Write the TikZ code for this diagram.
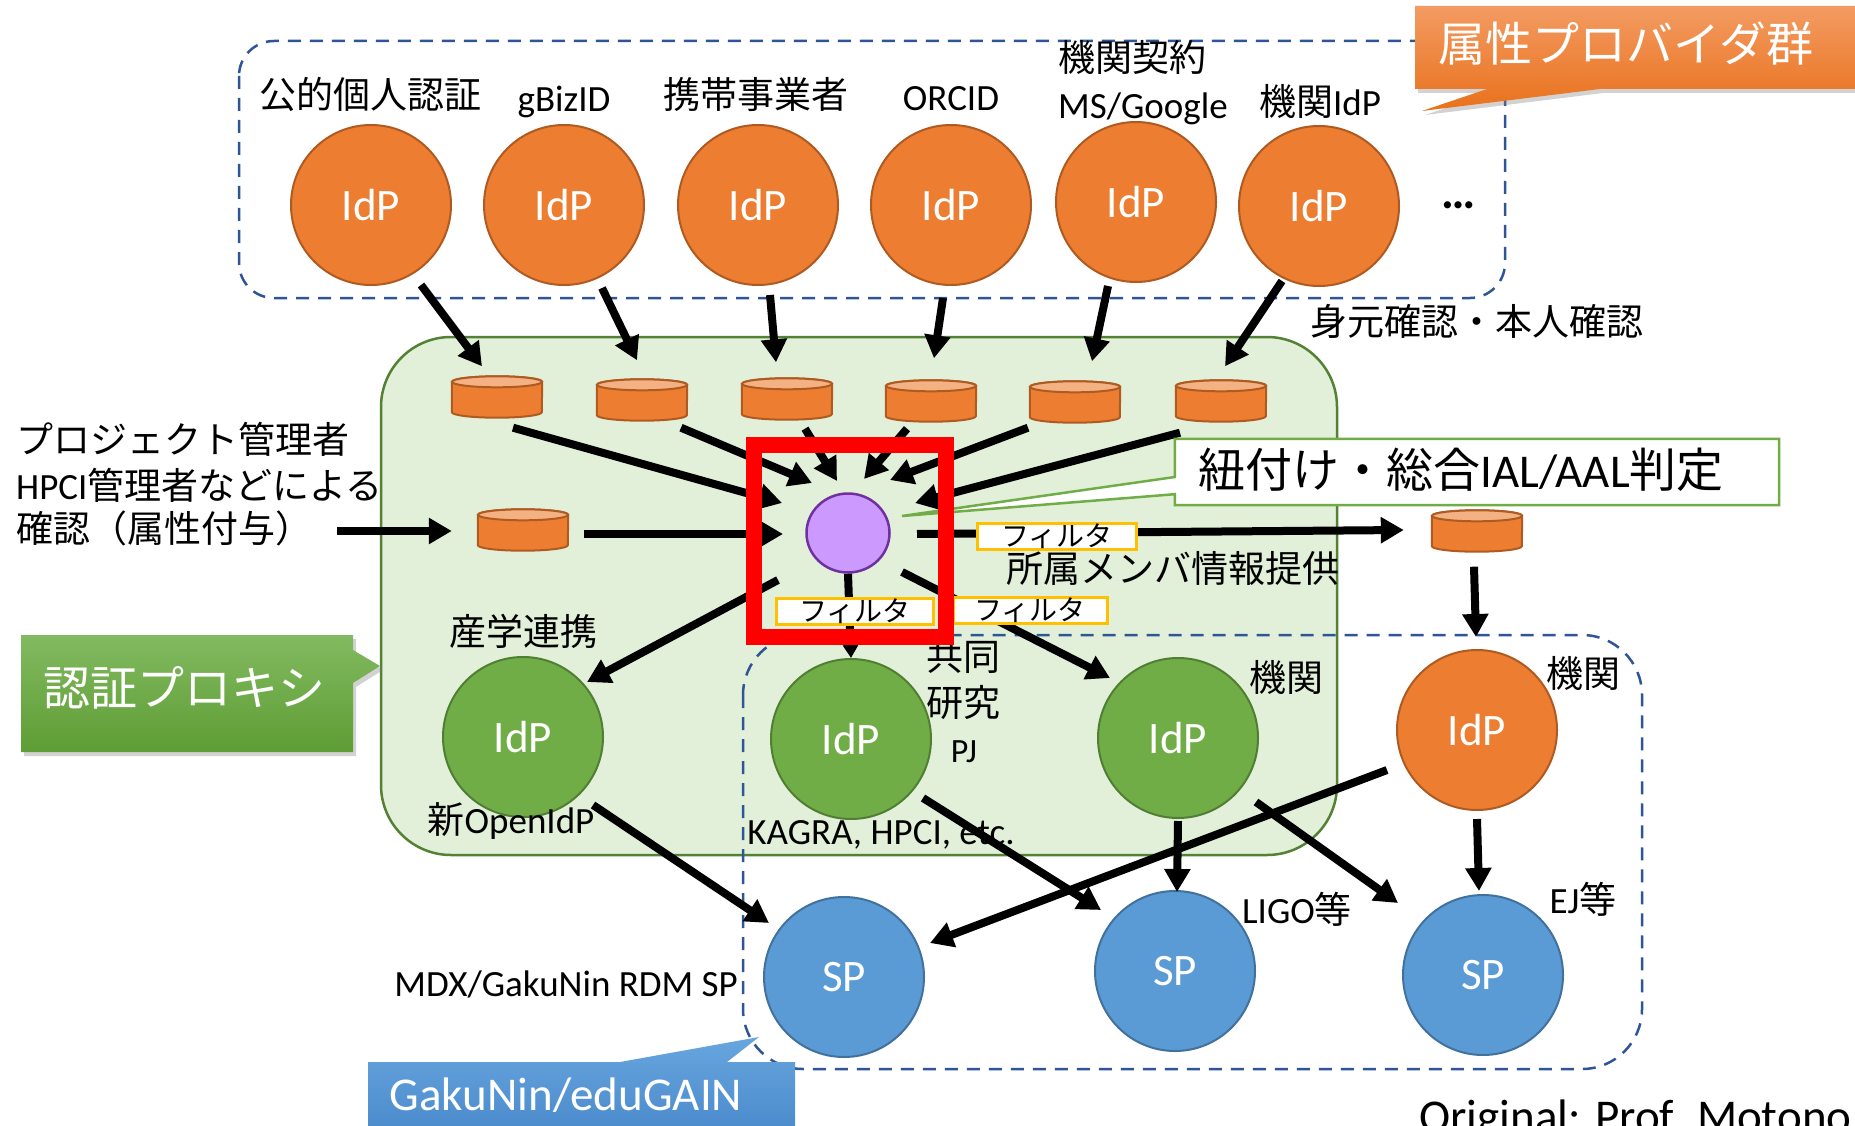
\documentclass[tikz,border=0pt]{standalone}
\usepackage{fontspec}
\setmainfont{Carlito}
\newfontfamily\jafont{Noto Sans CJK JP}
\usetikzlibrary{arrows.meta,calc,shadows,shapes.geometric}
\newcommand\J[1]{{\jafont #1}}
\newcommand\fsz[1]{\fontsize{#1}{#1}\selectfont}
\definecolor{orF}{HTML}{ED7D31}
\definecolor{orB}{HTML}{AE5A21}
\definecolor{orT}{HTML}{F4B183}
\definecolor{grF}{HTML}{70AD47}
\definecolor{grB}{HTML}{507E32}
\definecolor{blF}{HTML}{5B9BD5}
\definecolor{blB}{HTML}{41719C}
\definecolor{puF}{HTML}{CC99FF}
\definecolor{puB}{HTML}{7030A0}
\definecolor{boxF}{HTML}{E2F0D9}
\definecolor{boxB}{HTML}{548235}
\definecolor{dashB}{HTML}{2F5597}
\definecolor{filB}{HTML}{FFC000}
\definecolor{callG}{HTML}{70AD47}
\definecolor{orTop}{HTML}{F39B62}
\definecolor{orBot}{HTML}{E9711C}
\definecolor{grTop}{HTML}{82BA61}
\definecolor{grBot}{HTML}{5E9D34}
\definecolor{blTop}{HTML}{68A6DF}
\definecolor{blBot}{HTML}{4A89CB}
\begin{document}
\begin{tikzpicture}[x=1pt,y=-1pt,
  idp/.style={circle,minimum size=160,inner sep=0,line width=2,text=white,font=\fsz{45}},
  oidp/.style={idp,fill=orF,draw=orB},
  gidp/.style={idp,fill=grF,draw=grB},
  spn/.style={idp,fill=blF,draw=blB},
  cyl/.style={rectangle,minimum width=90,minimum height=41,inner sep=0},
  arr/.style={line width=8,-{Triangle[length=23pt,width=25pt]}},
  arrs/.style={line width=8,-{Triangle[length=13pt,width=15pt]}},
  lbl/.style={inner sep=0,font=\fsz{37}},
  filt/.style={draw=filB,fill=white,line width=3,minimum height=26,inner sep=0,font=\jafont\fsz{28}},
  dbox/.style={draw=dashB,line width=2.5,dash pattern=on 13pt off 9pt},
  callout/.style={font=\jafont\fsz{47},text=white,inner sep=0},
  shad/.style={drop shadow={shadow xshift=3pt,shadow yshift=-4pt,opacity=.35}}
]
\clip (0,0) rectangle (1855,1126);
\fill[white] (0,0) rectangle (1855,1126);

% proxy area and dashed groups
\draw[fill=boxF,draw=boxB,line width=2.5,rounded corners=70] (381,337) rectangle (1337,855);
\draw[dbox,rounded corners=35] (239,41) rectangle (1505,298);
\draw[dbox,rounded corners=60] (743,635) rectangle (1642,1069);

% top IdPs
\node[oidp] (t1) at (371,205) {IdP};
\node[oidp] (t2) at (564,205) {IdP};
\node[oidp] (t3) at (758,205) {IdP};
\node[oidp] (t4) at (951,205) {IdP};
\node[oidp] (t5) at (1136,202) {IdP};
\node[oidp] (t6) at (1319,206) {IdP};

% labels top
\node[lbl] (l1) at (370,94) {\J{公的個人認証}};
\node[lbl] (l2) at (564,102) {gBizID};
\node[lbl] (l3) at (756,94) {\J{携帯事業者}};
\node[lbl] (l4) at (951,99) {ORCID};
\node[lbl] (l5a) at (1132,57) {\J{機関契約}};
\node[lbl] (l5b) at (1143,109) {MS/Google};
\node[lbl] (l6) at (1320,101) {\J{機関}IdP};
\node[lbl,font=\bfseries\fsz{48},anchor=base] (dots) at (1459,208) {…};
\node[lbl] (mk) at (1477,321) {\J{身元確認・本人確認}};

% cylinders
\foreach \n/\x/\y in {c1/497/397,c2/642/400,c3/787/399,c4/931/401,c5/1075/402,c6/1221/401,cL/523/530,cR/1477/531}{
  \node[cyl] (\n) at (\x,\y) {};
  \draw[fill=orF,draw=orB,line width=2] ($(\n.north west)+(0,5.5)$) -- ($(\n.south west)+(0,-5.5)$)
     arc[start angle=180,end angle=360,x radius=45pt,y radius=5.5pt] -- ($(\n.north east)+(0,5.5)$)
     arc[start angle=0,end angle=180,x radius=45pt,y radius=5.5pt] -- cycle;
  \draw[fill=orT,draw=orB,line width=2] ($(\n.north)+(0,5.5)$) ellipse[x radius=45pt,y radius=5.5pt];
}

% central node
\node[ellipse,minimum width=83,minimum height=79,inner sep=0,fill=puF,draw=puB,line width=2.5] (p) at (848,533) {};

% lower IdPs and SPs
\node[gidp] (g1) at (523,737) {IdP};
\node[gidp] (g2) at (851,739) {IdP};
\node[gidp] (g3) at (1178,738) {IdP};
\node[oidp] (o7) at (1477,730) {IdP};
\node[spn] (s1) at (844,977) {SP};
\node[spn] (s2) at (1175,971) {SP};
\node[spn] (s3) at (1483,975) {SP};

% left admin text
\node[lbl,anchor=west] (a1) at (16,439) {\J{プロジェクト管理者}};
\node[lbl,anchor=west] (a2) at (16,485) {HPCI\J{管理者などによる}};
\node[lbl,anchor=west] (a3) at (16,528) {\J{確認（属性付与）}};

% other labels
\node[lbl] (sangaku) at (523,631) {\J{産学連携}};
\node[lbl] (newopen) at (511,821) {\J{新}OpenIdP};
\node[lbl] (kyodo) at (963,657) {\J{共同}};
\node[lbl] (kenkyu) at (963,702) {\J{研究}};
\node[lbl,font=\fsz{34}] (pj) at (964,752) {PJ};
\node[lbl] (kagra) at (881,835) {KAGRA, HPCI, etc.};
\node[lbl] (kikan1) at (1286,677) {\J{機関}};
\node[lbl] (kikan2) at (1583,673) {\J{機関}};
\node[lbl] (ligo) at (1297,909) {LIGO\J{等}};
\node[lbl] (ej) at (1583,899) {EJ\J{等}};
\node[lbl,anchor=east] (mdx) at (738,984) {MDX/GakuNin RDM SP};
\node[lbl] (shozoku) at (1173,568) {\J{所属メンバ情報提供}};

% arrows: top IdPs to stores
\draw[arr] ($(t1)+(50,80)$) -- ($(c1.north)+(-15,-10)$);
\draw[arr] ($(t2)+(38,83)$) -- ($(c2.north)+(-5,-19)$);
\draw[arr] ($(t3)+(12,90)$) -- ($(c3.north)+(-11,-16)$);
\draw[arr] ($(t4)+(-8,93)$) -- ($(c4.north)+(3,-22)$);
\draw[arr] ($(t5)+(-28,84)$) -- ($(c5.north)+(17,-20)$);
\draw[arr] ($(t6)+(-37,75)$) -- ($(c6.north)+(4,-14)$);
% stores to centre
\draw[arr] ($(c1.south)+(16,10)$) -- ($(p)+(-66,-30)$);
\draw[arr] ($(c2.south)+(39,7)$) -- ($(p)+(-36,-50)$);
\draw[arr] ($(c3.south)+(18,9)$) -- ($(p)+(-11,-52)$);
\draw[arr] ($(c4.south)+(-24,7)$) -- ($(p)+(16,-54)$);
\draw[arr] ($(c5.south)+(-47,5)$) -- ($(p)+(42,-53)$);
\draw[arr] ($(c6.south)+(-41,11)$) -- ($(p)+(67,-30)$);
\draw[arr] ($(a3.east)+(25,3)$) -- ($(cL.west)+(-26,1)$);
\draw[arr] ($(cL.east)+(16,4)$) -- ($(p)+(-65,1)$);
% centre outputs
\draw[arr] ($(p)+(69,1)$) -- ($(cR.west)+(-28,-1)$);
\draw[arrs] (p.south) -- (g2.north);
\draw[arr] ($(p)+(-70,47)$) -- ($(g1)+(64,-55)$);
\draw[arr] ($(p)+(54,39)$) -- ($(g3)+(-68,-60)$);
\draw[arr] ($(cR.south)+(-3,15)$) -- ($(o7.north)+(-1,-12)$);
% IdPs to SPs
\draw[arr] ($(g1)+(70,68)$) -- ($(s1)+(-75,-54)$);
\draw[arr] ($(g2)+(72,59)$) -- ($(s2)+(-74,-61)$);
\draw[arr] ($(g3.south)+(0,2)$) -- ($(s2.north)+(2,2)$);
\draw[arr] ($(g3)+(78,64)$) -- ($(s3)+(-85,-72)$);
\draw[arr] ($(o7)+(-90,40)$) -- ($(s1)+(86,-34)$);
\draw[arr] ($(o7.south)+(0,8)$) -- ($(s3.north)+(-4,-3)$);

% linking callout
\node[inner sep=0,minimum width=604,minimum height=66] (linkbox) at (1477,472) {};
\coordinate (wtip) at (902,516);
\draw[draw=callG,fill=white,line width=2.5] (linkbox.north west) -- (linkbox.north east) -- (linkbox.south east)
   -- (linkbox.south west) -- ($(linkbox.south west)+(0,-11)$) -- (wtip) -- ($(linkbox.west)+(0,5)$) -- cycle;
\node[lbl,font=\fsz{47}] (link) at (1461,470) {\J{紐付け・総合}IAL/AAL\J{判定}};

% filters
\node[filt,minimum width=159] (f1) at (1057,536) {フィルタ};
\node[filt,minimum width=157] (f2) at (855,611) {フィルタ};
\node[filt,minimum width=154] (f3) at (1030,610) {フィルタ};

% red highlight
\node[draw=red,line width=16,minimum size=192,inner sep=0] (rb) at (850,541) {};

% callouts
\path[shad,top color=orTop,bottom color=orBot] (1415,6) -- (1862,6) -- (1862,89) -- (1600,89) -- (1422,111) -- (1487,89) -- (1415,89) -- cycle;
\node[callout] (attr) at (1626,44) {属性プロバイダ群};
\path[shad,top color=grTop,bottom color=grBot] (21,635) -- (353,635) -- (353,650) -- (380,666) -- (353,683) -- (353,752) -- (21,752) -- cycle;
\node[callout] (proxy) at (184,688) {認証プロキシ};
\path[top color=blTop,bottom color=blBot] (368,1062) -- (620,1062) -- (759,1037) -- (727,1062) -- (795,1062) -- (795,1135) -- (368,1135) -- cycle;
\node[callout,font=\fsz{47}] (gaku) at (566,1095) {GakuNin/eduGAIN};

\node[lbl,font=\fsz{47},anchor=base west] (orig) at (1419,1132) {Original: Prof. Motono};
\end{tikzpicture}
\end{document}
